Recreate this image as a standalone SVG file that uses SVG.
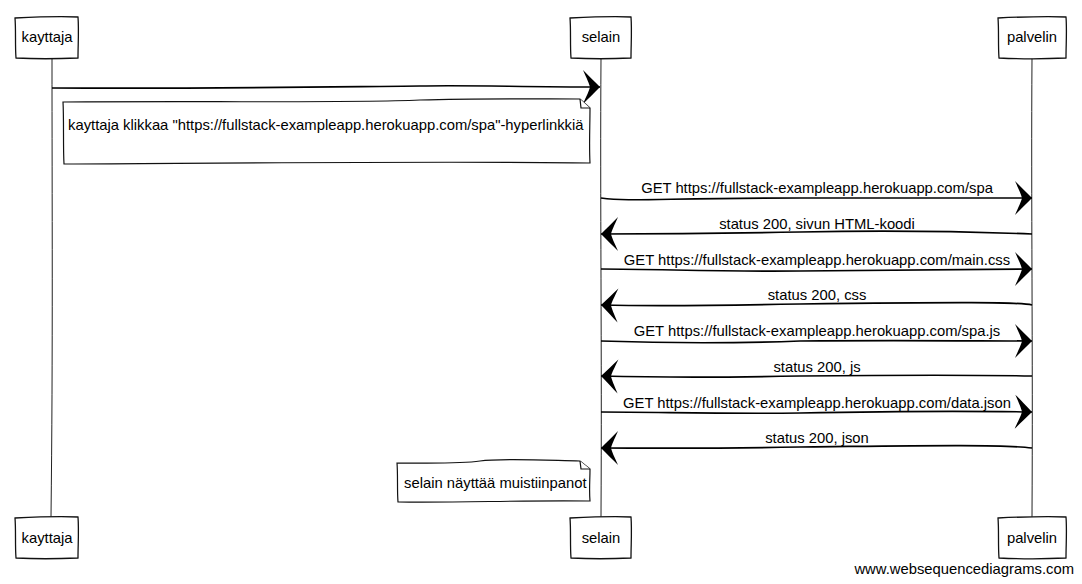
<svg xmlns="http://www.w3.org/2000/svg" width="1082" height="584" viewBox="0 0 1082 584">
<defs>
<style>
text{font-family:"Liberation Sans",Arial,sans-serif;font-size:14.8px;fill:#000}
.box{fill:#fff;stroke:#111;stroke-width:1.3}
.life{fill:none;stroke:#222;stroke-width:1}
.msg{fill:none;stroke:#000;stroke-width:1.7}
.note{fill:#fff;stroke:#111;stroke-width:1.2}
.mid{text-anchor:middle}
</style>
<marker id="ah" markerUnits="userSpaceOnUse" markerWidth="22" markerHeight="36" refX="20" refY="18" orient="auto" viewBox="0 0 22 36">
<path d="M20,18 C14,12 8,6 3,1 C7,10 9,14 10,18 C9,22 7,26 3,35 C8,30 14,24 20,18 Z" fill="#000"/>
</marker>
</defs>
<g id="lifelines">
<path class="life" d="M52,58 C52,200 53,350 51,517"/>
<path class="life" d="M601,58 C600,200 602,350 601,517"/>
<path class="life" d="M1032,58 C1031,200 1033,350 1032,517"/>
</g>
<g id="kayttaja-top"><path class="box" d="M15,18 C35,17 60,16 78,17 C79,30 78,45 78,58 C55,59 35,59 16,58 C15,45 16,30 15,18 Z"/><text x="47" y="42" class="mid">kayttaja</text></g>
<g id="selain-top"><path class="box" d="M570,18 C590,17 615,16 631,17 C632,30 631,45 631,58 C610,59 590,59 571,58 C570,45 571,30 570,18 Z"/><text x="601" y="42" class="mid">selain</text></g>
<g id="palvelin-top"><path class="box" d="M998,18 C1020,17 1045,16 1066,17 C1067,30 1066,45 1066,58 C1045,59 1020,59 999,58 C998,45 999,30 998,18 Z"/><text x="1032" y="42" class="mid">palvelin</text></g>
<g id="kayttaja-bottom"><path class="box" d="M15,518 C35,517 60,516 78,517 C79,530 78,545 78,558 C55,559 35,559 16,558 C15,545 16,530 15,518 Z"/><text x="47" y="543" class="mid">kayttaja</text></g>
<g id="selain-bottom"><path class="box" d="M570,518 C590,517 615,516 631,517 C632,530 631,545 631,558 C610,559 590,559 571,558 C570,545 571,530 570,518 Z"/><text x="601" y="543" class="mid">selain</text></g>
<g id="palvelin-bottom"><path class="box" d="M998,518 C1020,517 1045,516 1066,517 C1067,530 1066,545 1066,558 C1045,559 1020,559 999,558 C998,545 999,530 998,518 Z"/><text x="1032" y="543" class="mid">palvelin</text></g>
<g id="connectors">
<path class="msg" marker-end="url(#ah)" d="M52,88 C200,89 320,87 420,86 C470,85 520,87 600,87"/>
<path class="msg" marker-end="url(#ah)" d="M601,198 C630,202 660,198 800,198 C900,198 980,198 1032,198"/>
<path class="msg" marker-end="url(#ah)" d="M1032,234 C980,232 900,230 800,232 C700,234 640,234 601,234"/>
<path class="msg" marker-end="url(#ah)" d="M601,269 C660,269 720,272 800,271 C900,270 980,269 1032,269"/>
<path class="msg" marker-end="url(#ah)" d="M1032,305 C1020,302 960,302 800,304 C700,306 640,306 601,305"/>
<path class="msg" marker-end="url(#ah)" d="M601,341 C660,343 720,344 800,341 C900,340 980,341 1032,341"/>
<path class="msg" marker-end="url(#ah)" d="M1032,376 C980,375 900,375 800,376 C700,378 640,377 601,376"/>
<path class="msg" marker-end="url(#ah)" d="M601,412 C660,412 720,414 800,413 C900,411 980,411 1032,412"/>
<path class="msg" marker-end="url(#ah)" d="M1032,448 C1000,444 900,446 800,447 C700,449 640,448 601,448"/>
</g>
<g id="note1">
<path class="note" d="M63,102 C200,101 350,103 420,100 C480,98 540,99 580,99 L590,108 C590,125 589,145 590,163 C450,161 250,163 64,164 C63,145 64,120 63,102 Z"/>
<path class="note" d="M580,99 L581,108 L590,108"/>
<text x="68" y="130">kayttaja klikkaa "https://fullstack-exampleapp.herokuapp.com/spa"-hyperlinkkiä</text>
</g>
<g id="note2">
<path class="note" d="M397,463 C430,463 460,464 480,461 C500,458 540,460 580,461 L590,469 C590,480 589,490 590,501 C520,500 460,503 398,502 C397,490 398,475 397,463 Z"/>
<path class="note" d="M580,461 L581,469 L590,469"/>
<text x="404" y="488">selain näyttää muistiinpanot</text>
</g>
<g id="labels">
<text x="817" y="193" class="mid">GET https://fullstack-exampleapp.herokuapp.com/spa</text>
<text x="817" y="229" class="mid">status 200, sivun HTML-koodi</text>
<text x="817" y="265" class="mid">GET https://fullstack-exampleapp.herokuapp.com/main.css</text>
<text x="817" y="300" class="mid">status 200, css</text>
<text x="817" y="336" class="mid">GET https://fullstack-exampleapp.herokuapp.com/spa.js</text>
<text x="817" y="372" class="mid">status 200, js</text>
<text x="817" y="408" class="mid">GET https://fullstack-exampleapp.herokuapp.com/data.json</text>
<text x="817" y="443" class="mid">status 200, json</text>
</g>
<text x="1074" y="574" text-anchor="end" font-size="13.1">www.websequencediagrams.com</text>
</svg>
